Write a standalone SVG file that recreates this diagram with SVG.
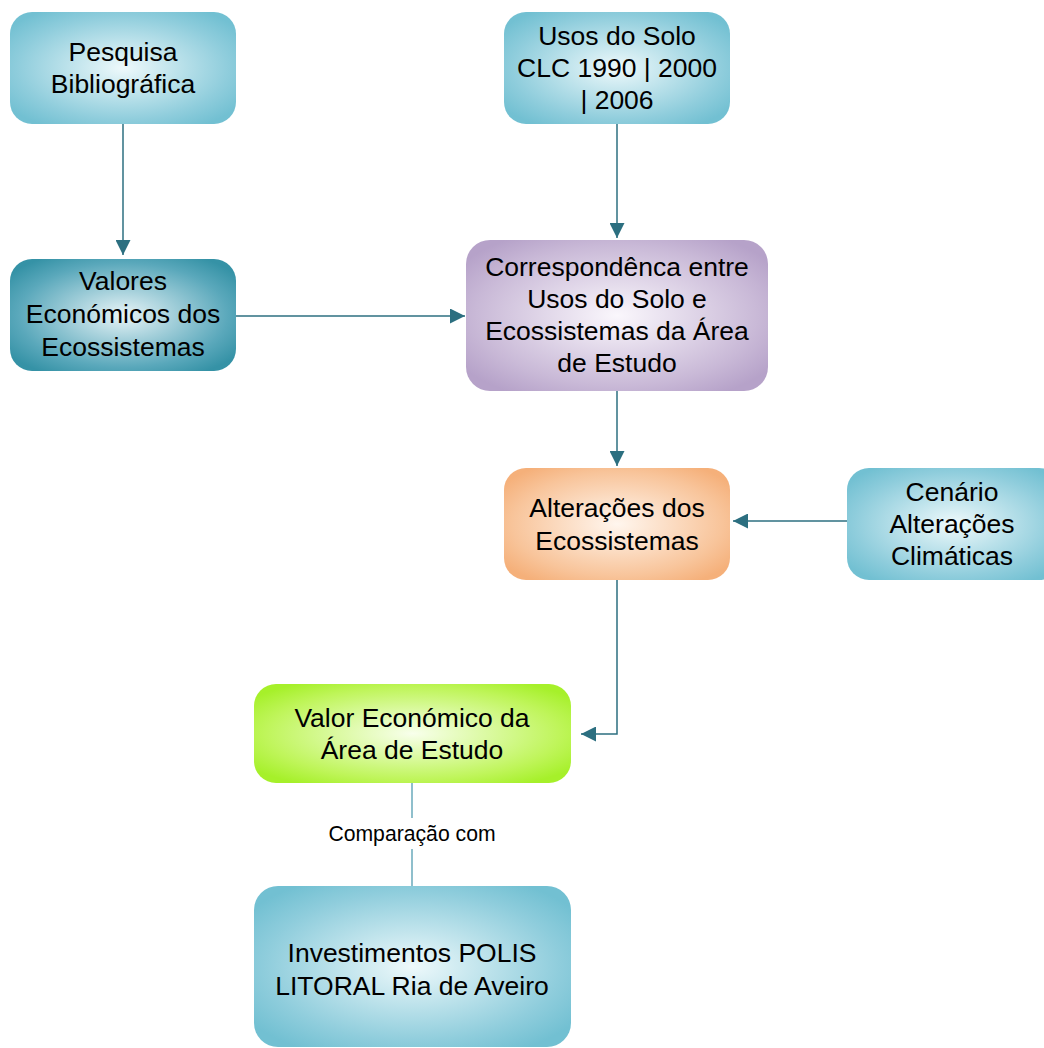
<svg xmlns="http://www.w3.org/2000/svg" width="1044" height="1048" viewBox="0 0 1044 1048">
<style>
.t{font-family:"Liberation Sans",Arial,sans-serif;font-size:26.5px;fill:#000;text-anchor:middle}
.lbl{font-family:"Liberation Sans",Arial,sans-serif;font-size:21.2px;fill:#000;text-anchor:middle}
.c{fill:none;stroke:#2c6f80;stroke-width:1.5}
.c2{fill:none;stroke:#6aaabb;stroke-width:1.5}
</style>
<defs>
<radialGradient id="gCyan" cx="0.5" cy="0.5" r="0.62">
<stop offset="0" stop-color="#eef9fb"/><stop offset="0.75" stop-color="#8fcddc"/><stop offset="1" stop-color="#72c0d2"/>
</radialGradient>
<radialGradient id="gTeal" cx="0.5" cy="0.5" r="0.62">
<stop offset="0" stop-color="#e8f4f7"/><stop offset="0.75" stop-color="#5aa8bb"/><stop offset="1" stop-color="#3592a6"/>
</radialGradient>
<radialGradient id="gPurple" cx="0.5" cy="0.5" r="0.62">
<stop offset="0" stop-color="#faf7fc"/><stop offset="0.75" stop-color="#c9b9d7"/><stop offset="1" stop-color="#b6a2c9"/>
</radialGradient>
<radialGradient id="gOrange" cx="0.5" cy="0.5" r="0.62">
<stop offset="0" stop-color="#fff6ee"/><stop offset="0.75" stop-color="#f8c49a"/><stop offset="1" stop-color="#f5b07a"/>
</radialGradient>
<radialGradient id="gGreen" cx="0.5" cy="0.5" r="0.62">
<stop offset="0" stop-color="#f8ffec"/><stop offset="0.75" stop-color="#bff55a"/><stop offset="1" stop-color="#a6f02a"/>
</radialGradient>
<marker id="arr" viewBox="0 0 15 15" refX="15" refY="7.5" markerWidth="15" markerHeight="15" markerUnits="userSpaceOnUse" orient="auto">
<path d="M0,0 L15,7.5 L0,15 Z" fill="#2c6f80"/>
</marker>
</defs>

<g id="connectors">
<path class="c" d="M123,124 V255" marker-end="url(#arr)"/>
<path class="c" d="M236,316 H465" marker-end="url(#arr)"/>
<path class="c" d="M617,124 V238" marker-end="url(#arr)"/>
<path class="c" d="M617,391 V466" marker-end="url(#arr)"/>
<path class="c" d="M847,521 H733" marker-end="url(#arr)"/>
<path class="c" d="M617,580 V734 H581" marker-end="url(#arr)"/>
<path class="c2" d="M412,783 V818"/>
<path class="c2" d="M412,849 V886"/>
<text class="lbl" x="412" y="841">Comparação com</text>
</g>

<g id="n-pesquisa">
<rect x="10" y="12" width="226" height="112" rx="22" fill="url(#gCyan)"/>
<text class="t" x="123" y="61">Pesquisa</text>
<text class="t" x="123" y="93">Bibliográfica</text>
</g>

<g id="n-valores">
<rect x="10" y="259" width="226" height="112" rx="22" fill="url(#gTeal)"/>
<text class="t" x="123" y="290">Valores</text>
<text class="t" x="123" y="323">Económicos dos</text>
<text class="t" x="123" y="356">Ecossistemas</text>
</g>

<g id="n-usos">
<rect x="504" y="12" width="226" height="112" rx="22" fill="url(#gCyan)"/>
<text class="t" x="617" y="45">Usos do Solo</text>
<text class="t" x="617" y="77">CLC 1990 | 2000</text>
<text class="t" x="617" y="109">| 2006</text>
</g>

<g id="n-corresp">
<rect x="466" y="240" width="302" height="151" rx="24" fill="url(#gPurple)"/>
<text class="t" x="617" y="276">Correspondênca entre</text>
<text class="t" x="617" y="308">Usos do Solo e</text>
<text class="t" x="617" y="340">Ecossistemas da Área</text>
<text class="t" x="617" y="372">de Estudo</text>
</g>

<g id="n-alteracoes">
<rect x="504" y="468" width="226" height="112" rx="22" fill="url(#gOrange)"/>
<text class="t" x="617" y="517">Alterações dos</text>
<text class="t" x="617" y="550">Ecossistemas</text>
</g>

<g id="n-cenario">
<rect x="847" y="468" width="214" height="112" rx="22" fill="url(#gCyan)"/>
<text class="t" x="952" y="501">Cenário</text>
<text class="t" x="952" y="533">Alterações</text>
<text class="t" x="952" y="565">Climáticas</text>
</g>

<g id="n-valor">
<rect x="254" y="684" width="317" height="99" rx="22" fill="url(#gGreen)"/>
<text class="t" x="412" y="727">Valor Económico da</text>
<text class="t" x="412" y="759">Área de Estudo</text>
</g>

<g id="n-invest">
<rect x="254" y="886" width="317" height="161" rx="24" fill="url(#gCyan)"/>
<text class="t" x="412" y="962">Investimentos POLIS</text>
<text class="t" x="412" y="995">LITORAL Ria de Aveiro</text>
</g>
</svg>
